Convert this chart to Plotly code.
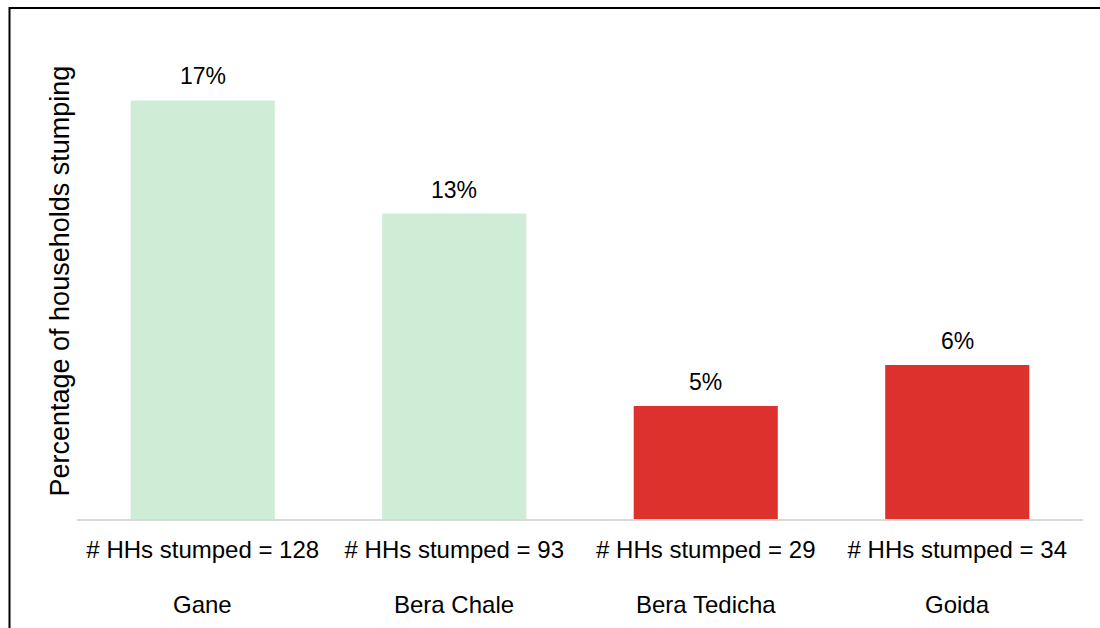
import plotly.graph_objects as go

# Share of households stumping, by kebele
categories = ["Gane", "Bera Chale", "Bera Tedicha", "Goida"]
share_stumping = [0.174, 0.127, 0.047, 0.064]
hhs_stumped = [128, 93, 29, 34]
bar_colors = ["#CFECD6", "#CFECD6", "#DC312C", "#DC312C"]

tick_text = [f"# HHs stumped = {n}" for n in hhs_stumped]

W, H = 1100, 628
ML, MR, MT, MB = 77, 17, 61.5, 108.5
Y_MAX = 0.19
FONT = "Liberation Sans, Arial, sans-serif"

fig = go.Figure(
    go.Bar(
        x=categories,
        y=share_stumping,
        marker=dict(color=bar_colors, line=dict(width=0)),
        width=0.573,
        hoverinfo="x+y",
    )
)

# value labels above each bar
for c, v in zip(categories, share_stumping):
    fig.add_annotation(
        x=c, y=v, text=f"{v:.0%}", showarrow=False,
        yanchor="bottom", yshift=9,
        font=dict(family=FONT, size=23, color="#000000"),
    )

# category names on a second row beneath the counts
for c in categories:
    fig.add_annotation(
        x=c, y=0, text=c, showarrow=False,
        yanchor="middle", yshift=-85,
        font=dict(family=FONT, size=24, color="#000000"),
    )

# vertical axis title
plot_h = H - MT - MB
fig.add_annotation(
    xref="paper", yref="paper",
    x=(60.5 - ML) / (W - ML - MR), y=(H - MB - 281) / plot_h,
    text="Percentage of households stumping", textangle=-90,
    showarrow=False, xanchor="center", yanchor="middle",
    font=dict(family=FONT, size=27, color="#000000"),
)

# outer chart frame (left and top edges)
pw = W - ML - MR
fx = (9.5 - ML) / pw
fy = (H - MB - 7.5) / plot_h
fb = (H - MB - 640) / plot_h
fr = (1110 - ML) / pw
fig.add_shape(
    type="path", xref="paper", yref="paper",
    path=f"M {fx} {fb} L {fx} {fy} L {fr} {fy}",
    line=dict(color="#000000", width=2),
)

fig.update_layout(
    width=W, height=H,
    margin=dict(l=ML, r=MR, t=MT, b=MB, pad=0, autoexpand=False),
    paper_bgcolor="#FFFFFF", plot_bgcolor="#FFFFFF",
    showlegend=False,
    font=dict(family=FONT, color="#000000"),
    xaxis=dict(
        tickmode="array", tickvals=categories, ticktext=tick_text,
        tickfont=dict(family=FONT, size=24, color="#000000"),
        showline=True, linecolor="#D9D9D9", linewidth=1.5,
        ticks="outside", ticklen=8, tickcolor="rgba(0,0,0,0)",
        showgrid=False, zeroline=False, fixedrange=True,
        automargin=False,
    ),
    yaxis=dict(
        range=[0, Y_MAX], visible=False, showgrid=False,
        zeroline=False, fixedrange=True, automargin=False,
    ),
)

fig.write_html("out.html")
